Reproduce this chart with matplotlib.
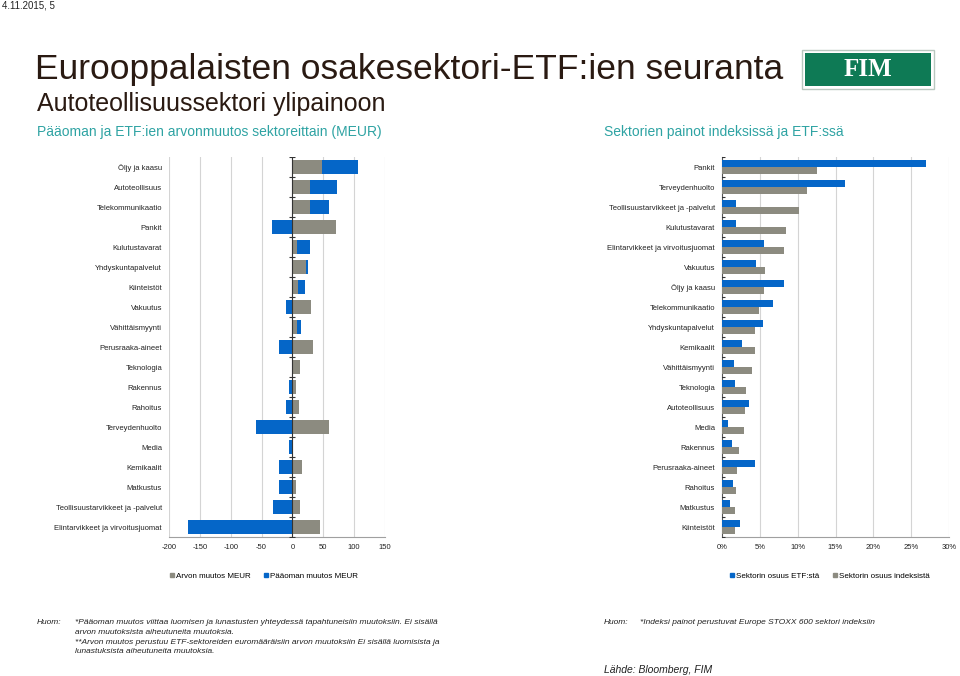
import numpy as np
import matplotlib
matplotlib.use("Agg")
import matplotlib.pyplot as plt
from matplotlib.patches import Rectangle
from matplotlib.lines import Line2D

plt.rcParams['font.family'] = ['Liberation Sans', 'DejaVu Sans']
plt.rcParams['axes.unicode_minus'] = False

# left chart: capital change and value change per sector (MEUR)
left_sectors = ["Öljy ja kaasu", "Autoteollisuus", "Telekommunikaatio", "Pankit",
                "Kulutustavarat", "Yhdyskuntapalvelut", "Kiinteistöt", "Vakuutus",
                "Vähittäismyynti", "Perusraaka-aineet", "Teknologia", "Rakennus",
                "Rahoitus", "Terveydenhuolto", "Media", "Kemikaalit", "Matkustus",
                "Teollisuustarvikkeet ja -palvelut", "Elintarvikkeet ja virvoitusjuomat"]
arvon_muutos = [48, 28, 28, 71, 8, 22, 9, 30, 7, 33, 12, 6, 10, 59, 1, 16, 5, 12, 44]
paaoman_muutos = [58, 45, 32, -33, 20, 3, 12, -11, 7, -21, -1, -6, -10, -59, -5, -22, -22, -31, -170]

# right chart: sector weights (%)
right_sectors = ["Pankit", "Terveydenhuolto", "Teollisuustarvikkeet ja -palvelut",
                 "Kulutustavarat", "Elintarvikkeet ja virvoitusjuomat", "Vakuutus",
                 "Öljy ja kaasu", "Telekommunikaatio", "Yhdyskuntapalvelut", "Kemikaalit",
                 "Vähittäismyynti", "Teknologia", "Autoteollisuus", "Media", "Rakennus",
                 "Perusraaka-aineet", "Rahoitus", "Matkustus", "Kiinteistöt"]
osuus_etf = [27.0, 16.2, 1.9, 1.8, 5.6, 4.5, 8.2, 6.7, 5.4, 2.7, 1.6, 1.7, 3.6, 0.8,
             1.3, 4.3, 1.5, 1.1, 2.4]
osuus_indeksi = [12.5, 11.2, 10.2, 8.4, 8.2, 5.7, 5.5, 4.9, 4.4, 4.4, 4.0, 3.2, 3.1,
                 2.9, 2.2, 2.0, 1.8, 1.75, 1.75]

BLUE = "#0566C8"
GRAY = "#8C8B80"
TEAL = "#2EA3A3"
W, H = 960, 676

fig = plt.figure(figsize=(9.6, 6.76), dpi=100)


def fx(px):
    return px / W


def fy(py):
    return 1 - py / H


# header texts
fig.text(fx(2), fy(6), "4.11.2015, 5", fontsize=7, va="center", color="#222222")
fig.text(fx(35), fy(69), "Eurooppalaisten osakesektori-ETF:ien seuranta", fontsize=25.5,
         va="center", color="#2A1A12")
fig.text(fx(37), fy(104), "Autoteollisuussektori ylipainoon", fontsize=18,
         va="center", color="#2A1A12")
fig.text(fx(37), fy(132), "Pääoman ja ETF:ien arvonmuutos sektoreittain (MEUR)",
         fontsize=10, va="center", color=TEAL)
fig.text(fx(604), fy(132), "Sektorien painot indeksissä ja ETF:ssä",
         fontsize=10, va="center", color=TEAL)

# FIM logo
fig.patches.append(Rectangle((fx(802), fy(89)), fx(132), (89 - 50) / H,
                             transform=fig.transFigure, facecolor="white",
                             edgecolor="#B9C8C0", lw=1))
fig.patches.append(Rectangle((fx(805), fy(86)), fx(126), (86 - 53) / H,
                             transform=fig.transFigure, facecolor="#0E7A55",
                             edgecolor="none"))
fig.text(fx(868), fy(70), "FIM", fontsize=18, fontweight="bold", color="white",
         family="Liberation Serif", ha="center", va="center")

# left chart
ax1 = fig.add_axes([fx(169), fy(537), fx(385 - 169), (537 - 157) / H])
y1 = np.arange(len(left_sectors))
pos_start = np.zeros(len(left_sectors))
neg_start = np.zeros(len(left_sectors))
for vals, col in [(arvon_muutos, GRAY), (paaoman_muutos, BLUE)]:
    v = np.array(vals, dtype=float)
    left = np.where(v >= 0, pos_start, neg_start)
    ax1.barh(y1, v, left=left, height=0.68, color=col, zorder=3)
    pos_start = pos_start + np.where(v >= 0, v, 0)
    neg_start = neg_start + np.where(v < 0, v, 0)
ax1.set_xlim(-200, 150)
ax1.set_ylim(len(left_sectors) - 0.5, -0.5)
ax1.set_xticks(np.arange(-200, 151, 50))
ax1.set_yticks(y1)
ax1.set_yticklabels(left_sectors)
ax1.axvline(0, color="#333333", lw=0.8, zorder=4)
ax1.plot(np.zeros(len(left_sectors) + 1), np.arange(len(left_sectors) + 1) - 0.5,
         ls="none", marker="_", ms=4, mew=0.8, color="#333333", zorder=4)
ax1.grid(axis="x", color="#D4D4D4", lw=0.8, zorder=0)

# right chart
ax2 = fig.add_axes([fx(722), fy(537), fx(949 - 722), (537 - 157) / H])
y2 = np.arange(len(right_sectors))
bh = 0.36
ax2.barh(y2 - bh / 2, osuus_etf, height=bh, color=BLUE, zorder=3)
ax2.barh(y2 + bh / 2, osuus_indeksi, height=bh, color=GRAY, zorder=3)
ax2.set_xlim(0, 30)
ax2.set_ylim(len(right_sectors) - 0.5, -0.5)
ax2.set_xticks(np.arange(0, 31, 5))
ax2.set_xticklabels([f"{t}%" for t in range(0, 31, 5)])
ax2.set_yticks(y2)
ax2.set_yticklabels(right_sectors)
ax2.plot(np.zeros(len(right_sectors) + 1), np.arange(len(right_sectors) + 1) - 0.5,
         ls="none", marker="_", ms=4, mew=0.8, color="#333333", zorder=4)
ax2.grid(axis="x", color="#D4D4D4", lw=0.8, zorder=0)

for ax in (ax1, ax2):
    ax.set_axisbelow(True)
    for s in ("top", "right", "left"):
        ax.spines[s].set_visible(False)
    ax.spines["bottom"].set_color("#A0A0A0")
    ax.tick_params(axis="both", length=0, labelsize=5.5, colors="#222222")
    ax.tick_params(axis="y", pad=5)
    ax.tick_params(axis="x", pad=5)
ax2.spines["left"].set_visible(True)
ax2.spines["left"].set_color("#555555")
ax2.spines["left"].set_linewidth(0.8)

# legends
h_left = [Line2D([], [], ls="none", marker="s", ms=3, color=GRAY),
          Line2D([], [], ls="none", marker="s", ms=3, color=BLUE)]
fig.legend(h_left, ["Arvon muutos MEUR", "Pääoman muutos MEUR"], ncol=2,
           loc="center", bbox_to_anchor=(fx(263), fy(576)), frameon=False,
           fontsize=5.8, handletextpad=0.1, columnspacing=1.5, handlelength=0.8)
h_right = [Line2D([], [], ls="none", marker="s", ms=3, color=BLUE),
           Line2D([], [], ls="none", marker="s", ms=3, color=GRAY)]
fig.legend(h_right, ["Sektorin osuus ETF:stä", "Sektorin osuus indeksistä"], ncol=2,
           loc="center", bbox_to_anchor=(fx(829), fy(576)), frameon=False,
           fontsize=5.8, handletextpad=0.1, columnspacing=1.5, handlelength=0.8)

# footnotes
note = dict(fontsize=6, style="italic", color="#222222", va="top")
fig.text(fx(37), fy(619), "Huom:", **note)
fig.text(fx(75), fy(619),
         "*Pääoman muutos viittaa luomisen ja lunastusten yhteydessä tapahtuneisiin muutoksiin. Ei sisällä\n"
         "arvon muutoksista aiheutuneita muutoksia.\n"
         "**Arvon muutos perustuu ETF-sektoreiden euromääräisiin arvon muutoksiin Ei sisällä luomisista ja\n"
         "lunastuksista aiheutuneita muutoksia.", linespacing=1.55, **note)
fig.text(fx(604), fy(619), "Huom:", **note)
fig.text(fx(640), fy(619), "*Indeksi painot perustuvat Europe STOXX 600 sektori indeksiin", **note)
fig.text(fx(604), fy(670), "Lähde: Bloomberg, FIM", fontsize=7.5, style="italic",
         color="#222222", va="center")

fig.savefig("out.png", dpi=100)
